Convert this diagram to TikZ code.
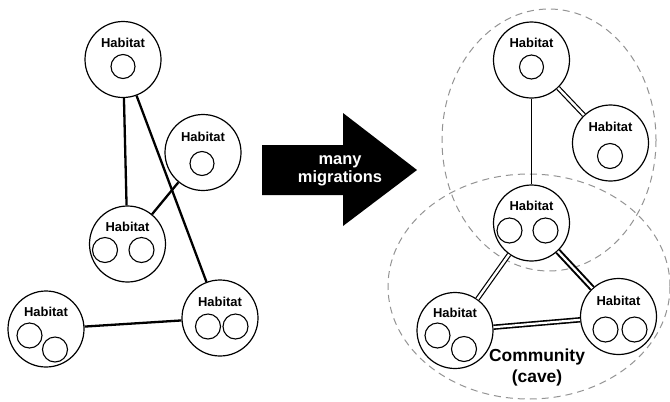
\documentclass[tikz,border=0pt]{standalone}
\usepackage{fontspec}
\setmainfont{Liberation Sans}
\begin{document}
\begin{tikzpicture}[x=1bp,y=-1bp,
  hab/.style={circle,draw,fill=white,line width=1.2bp,minimum size=76bp,inner sep=0pt},
  hlabel/.style={font=\fontsize{13}{15}\selectfont\bfseries,inner sep=0pt},
  inner/.style={line width=1.1bp},
  thick edge/.style={line width=2.3bp},
  thin edge/.style={line width=1bp},
  dbl/.style={draw=black,double=white,line width=1.2bp,double distance=2.4bp},
  dblthick/.style={draw=black,double=white,line width=2bp,double distance=2.2bp},
  dblmid/.style={draw=black,double=white,line width=1.6bp,double distance=2.2bp},
  group/.style={draw=gray!85,dash pattern=on 7bp off 5bp,line width=1bp}]
\useasboundingbox (0,0) rectangle (670,401);

% community groups
\draw[group] (549,140) ellipse [x radius=107, y radius=131];
\draw[group] (529,286.5) ellipse [x radius=141, y radius=112.5];

% left habitats
\node[hab] (h1) at (123,59.5) {};
\node[hab] (h2) at (203,152.5) {};
\node[hab] (h3) at (127.5,244) {};
\node[hab] (h4) at (46,329) {};
\node[hab] (h5) at (220,318) {};

\draw[thick edge] (h1) -- (h3);
\draw[thick edge] (h1) -- (h5);
\draw[thick edge] (h2) -- (h3);
\draw[thick edge] (h4) -- (h5);

\node[hlabel] (h1l) at (123,43) {Habitat};
\node[hlabel] (h2l) at (203,137) {Habitat};
\node[hlabel] (h3l) at (127.5,227) {Habitat};
\node[hlabel] (h4l) at (46,312) {Habitat};
\node[hlabel] (h5l) at (220,302) {Habitat};

\draw[inner] (123,66.5) circle [radius=12];
\draw[inner] (202,163.5) circle [radius=12];
\draw[inner] (105,250) circle [radius=12.5];
\draw[inner] (141.5,250) circle [radius=12.5];
\draw[inner] (29.5,335.5) circle [radius=12.5];
\draw[inner] (55,349.5) circle [radius=12.5];
\draw[inner] (208,326.5) circle [radius=12.5];
\draw[inner] (235.5,326.5) circle [radius=12.5];

% arrow
\fill[black] (262,145) -- (343,145) -- (343,113) -- (417,170) -- (343,226) -- (343,195) -- (262,195) -- cycle;
\node[text=white,font=\fontsize{16.5}{18.5}\selectfont\bfseries,align=center,inner sep=0pt] (arr) at (340,171) {many\\migrations};

% right habitats
\node[hab] (r1) at (531.5,60) {};
\node[hab] (r2) at (610.5,143) {};
\node[hab] (r3) at (531.5,223) {};
\node[hab] (r4) at (455,330.5) {};
\node[hab] (r5) at (618.5,316.5) {};

\draw[thin edge] (r1) -- (r3);
\draw[dbl] (r1) -- (r2);
\draw[dbl] (r3) -- (r4);
\draw[dblthick] (r3) -- (r5);
\draw[dblmid] (r4) -- (r5);

\node[hlabel] (r1l) at (531.5,43) {Habitat};
\node[hlabel] (r2l) at (610.5,127) {Habitat};
\node[hlabel] (r3l) at (531.5,206) {Habitat};
\node[hlabel] (r4l) at (455,313) {Habitat};
\node[hlabel] (r5l) at (618.5,301) {Habitat};

\draw[inner] (531.5,67) circle [radius=12];
\draw[inner] (610,156) circle [radius=12.5];
\draw[inner] (509.5,230.5) circle [radius=12.5];
\draw[inner] (545.5,230.5) circle [radius=12.5];
\draw[inner] (437.5,335.5) circle [radius=12.5];
\draw[inner] (464,349) circle [radius=12.5];
\draw[inner] (605.5,329.5) circle [radius=12.5];
\draw[inner] (634.5,329.5) circle [radius=12.5];

\node[font=\fontsize{17.5}{21}\selectfont\bfseries,align=center,inner sep=0pt] (comm) at (537,367.5) {Community\\(cave)};
\end{tikzpicture}
\end{document}
